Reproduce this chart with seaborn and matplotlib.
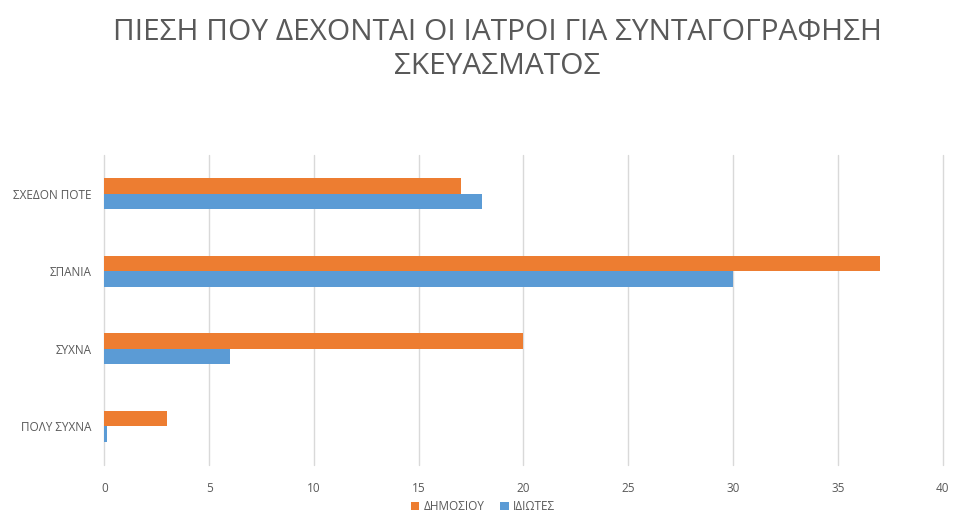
import matplotlib
matplotlib.use("Agg")
import matplotlib.pyplot as plt
import seaborn as sns
import pandas as pd

categories = ["ΣΧΕΔΟΝ ΠΟΤΕ", "ΣΠΑΝΙΑ", "ΣΥΧΝΑ", "ΠΟΛΥ ΣΥΧΝΑ"]
public_vals = [17, 37, 20, 3]
private_vals = [18, 30, 6, 0.15]
series_names = ["ΔΗΜΟΣΙΟΥ", "ΙΔΙΩΤΕΣ"]
xticks = [0, 5, 10, 15, 20, 25, 30, 35, 40]
title = "ΠΙΕΣΗ ΠΟΥ ΔΕΧΟΝΤΑΙ ΟΙ ΙΑΤΡΟΙ ΓΙΑ ΣΥΝΤΑΓΟΓΡΑΦΗΣΗ\nΣΚΕΥΑΣΜΑΤΟΣ"

df = pd.DataFrame({
    "cat": categories * 2,
    "val": public_vals + private_vals,
    "series": [series_names[0]] * 4 + [series_names[1]] * 4,
})

sns.set_theme(style="white")
plt.rcParams["font.family"] = ["Open Sans", "DejaVu Sans"]

fig = plt.figure(figsize=(9.57, 5.14), dpi=100)
ax = fig.add_axes([0.109, 0.095, 0.876, 0.603])
sns.barplot(data=df, y="cat", x="val", hue="series", order=categories,
            hue_order=series_names, palette=["#ED7D31", "#5B9BD5"],
            orient="h", width=0.4, ax=ax, saturation=1, legend=True,
            linewidth=0, edgecolor="none")

ax.set_xlim(0, 40)
ax.set_xticks(xticks)
ax.set_ylim(3.5, -0.5)
ax.set_xlabel("")
ax.set_ylabel("")
ax.grid(axis="x", color="#d9d9d9", linewidth=1)
for gl in ax.get_xgridlines():
    gl.set_clip_on(False)
ax.set_axisbelow(True)
for s in ax.spines.values():
    s.set_visible(False)
ax.tick_params(axis="both", length=0, labelsize=8.5, labelcolor="#595959")
ax.tick_params(axis="x", pad=12)
ax.tick_params(axis="y", pad=9)

handles, labels = ax.get_legend_handles_labels()
ax.legend_.remove()
fig.legend(handles, labels, loc="center", bbox_to_anchor=(0.505, 0.015),
           ncol=2, frameon=False, fontsize=8.5, labelcolor="#595959",
           handlelength=0.7, handleheight=0.7, handletextpad=0.4, columnspacing=1.3)

fig.suptitle(title, x=0.52, y=0.965, fontsize=21.5, color="#595959", linespacing=1.25)

fig.savefig("out.png", dpi=100, facecolor="white")
